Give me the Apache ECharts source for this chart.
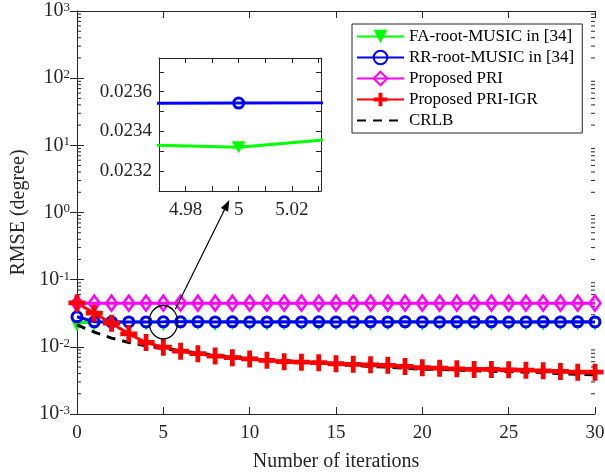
<!DOCTYPE html>
<html>
<head>
<meta charset="utf-8">
<script src="https://cdn.jsdelivr.net/npm/echarts@6/dist/echarts.min.js"></script>
<style>
  html, body { margin: 0; padding: 0; background: #fff; }
  #chart { width: 605px; height: 474px; }
</style>
</head>
<body>
<div id="chart"></div>
<script>
// 迭代次数
var iterations = [0, 1, 2, 3, 4, 5, 6, 7, 8, 9, 10, 11, 12, 13, 14, 15, 16, 17, 18, 19, 20, 21, 22, 23, 24, 25, 26, 27, 28, 29, 30];
// FA-root-MUSIC
var faRootMusic = [0.0228, 0.0233, 0.0236, 0.0234, 0.02365, 0.02332, 0.0245, 0.0238, 0.0235, 0.0240, 0.0236, 0.0234, 0.0237, 0.0239, 0.0235, 0.0236, 0.0238, 0.0234, 0.0236, 0.0240, 0.0235, 0.0237, 0.0236, 0.0238, 0.0234, 0.0236, 0.0237, 0.0235, 0.0236, 0.0238, 0.0237];
// RR-root-MUSIC
var rrRootMusic = [0.0280, 0.0236, 0.0235, 0.0235, 0.02350, 0.023543, 0.02360, 0.0236, 0.0235, 0.0236, 0.0235, 0.0235, 0.0236, 0.0235, 0.0236, 0.0235, 0.0235, 0.0236, 0.0235, 0.0236, 0.0235, 0.0235, 0.0236, 0.0235, 0.0236, 0.0235, 0.0235, 0.0236, 0.0235, 0.0236, 0.0235];
// Proposed PRI
var proposedPri = [0.0447, 0.0447, 0.0447, 0.0447, 0.0447, 0.0447, 0.0447, 0.0447, 0.0447, 0.0447, 0.0447, 0.0447, 0.0447, 0.0447, 0.0447, 0.0447, 0.0447, 0.0447, 0.0447, 0.0447, 0.0447, 0.0447, 0.0447, 0.0447, 0.0447, 0.0447, 0.0447, 0.0447, 0.0447, 0.0447, 0.0447];
// Proposed PRI-IGR
var proposedPriIgr = [0.0450, 0.0317, 0.0225, 0.0156, 0.0116, 0.0099, 0.0086, 0.0079, 0.0073, 0.0069, 0.0066, 0.0063, 0.0060, 0.0059, 0.0058, 0.0056, 0.0055, 0.0054, 0.0053, 0.0051, 0.0049, 0.0048, 0.0047, 0.0046, 0.0046, 0.00455, 0.0045, 0.0044, 0.0043, 0.0042, 0.0042];
// CRLB
var crlb = [0.0213, 0.0166, 0.0135, 0.0116, 0.0104, 0.0094, 0.0087, 0.0081, 0.0075, 0.0071, 0.0068, 0.0065, 0.0063, 0.0060, 0.0057, 0.0054, 0.0053, 0.0051, 0.0050, 0.0048, 0.00465, 0.0046, 0.0045, 0.0044, 0.0043, 0.00428, 0.0042, 0.0041, 0.0040, 0.0039, 0.00383];
// 图例名称
var legendNames = ['FA-root-MUSIC in [34]', 'RR-root-MUSIC in [34]', 'Proposed PRI', 'Proposed PRI-IGR', 'CRLB'];
// 局部放大区间
var zoomX = [4.97, 5.031];
var zoomY = [0.0231, 0.02377];

var FONT = 'Liberation Serif';
var AXC = '#262626';

function pairs(ys) {
  return iterations.map(function (x, i) { return [x, ys[i]]; });
}

// 对数轴次刻度 2..9
var minorVals = [];
for (var e = -3; e < 3; e++) {
  for (var m = 2; m <= 9; m++) minorVals.push([0, m * Math.pow(10, e)]);
}

var plusPath = 'path://M3.6,0H6.4V3.6H10V6.4H6.4V10H3.6V6.4H0V3.6H3.6Z';

function mainSeries(name, ys, xi, yi, extra) {
  var s = {
    name: name, type: 'line', data: pairs(ys),
    xAxisIndex: xi, yAxisIndex: yi,
    animation: false, clip: true
  };
  for (var k in extra) s[k] = extra[k];
  return s;
}

function styles(idx) {
  return [
    { symbol: 'triangle', symbolRotate: 180, symbolSize: [12, 12], symbolOffset: [0, 3], z: 2,
      lineStyle: { color: '#00ff00', width: 3 }, itemStyle: { color: '#00ff00' } },
    { symbol: 'circle', symbolSize: 10, z: 3,
      lineStyle: { color: '#0000ff', width: 3 }, itemStyle: { color: 'rgba(255,255,255,0)', borderColor: '#0000ff', borderWidth: 3 } },
    { symbol: 'diamond', symbolSize: [11, 15], z: 4,
      lineStyle: { color: '#ff00ff', width: 3 }, itemStyle: { color: 'rgba(255,255,255,0)', borderColor: '#ff00ff', borderWidth: 2.5 } },
    { symbol: plusPath, symbolSize: 17, z: 4,
      lineStyle: { color: '#ff0000', width: 3 }, itemStyle: { color: '#ff0000' } },
    { symbol: 'circle', showSymbol: false, z: 4,
      lineStyle: { color: '#000000', width: 3, type: [9, 7] },
      itemStyle: { color: 'rgba(0,0,0,0)', borderWidth: 0 } }
  ][idx];
}

var allData = [faRootMusic, rrRootMusic, proposedPri, proposedPriIgr, crlb];
var series = [];
for (var i = 0; i < allData.length; i++) {
  series.push(mainSeries(legendNames[i], allData[i], 0, 0, styles(i)));
  if (i === 0) {
    // 圆圈内部衬底
    series.push(mainSeries('rrFace', rrRootMusic, 0, 0, {
      symbol: 'circle', symbolSize: 7, z: 2, lineStyle: { width: 0, opacity: 0 },
      itemStyle: { color: '#fff' }, silent: true
    }));
  }
}
// 放大图中的两条线
series.push(mainSeries('zoomFA', faRootMusic, 2, 2, Object.assign({}, styles(0), { symbolSize: [14, 12], symbolOffset: [0, 0] })));
series.push(mainSeries('zoomRR', rrRootMusic, 2, 2, styles(1)));

// 次刻度
series.push({
  type: 'custom', xAxisIndex: 0, yAxisIndex: 0, data: minorVals, silent: true, animation: false,
  renderItem: function (params, api) {
    var y = api.coord([0, api.value(1)])[1];
    var cs = params.coordSys;
    return {
      type: 'group', children: [
        { type: 'line', shape: { x1: cs.x, y1: y, x2: cs.x + 4, y2: y }, style: { stroke: AXC, lineWidth: 1 } },
        { type: 'line', shape: { x1: cs.x + cs.width, y1: y, x2: cs.x + cs.width - 4, y2: y }, style: { stroke: AXC, lineWidth: 1 } }
      ]
    };
  }
});

var labelStyle = { fontFamily: FONT, fontSize: 19, color: AXC };

function logLabel(v) {
  var p = Math.round(Math.log(v) / Math.LN10);
  return '{b|10}{s|' + p + '}';
}

var option = {
  backgroundColor: '#fff',
  animation: false,
  grid: [
    { left: 77, right: 10, top: 11, bottom: 60, show: false, outerBoundsMode: 'none', containLabel: false },
    { left: 159, right: 284, top: 58, bottom: 283, show: true, backgroundColor: '#fff', borderWidth: 0, outerBoundsMode: 'none', containLabel: false }
  ],
  legend: {
    data: legendNames,
    orient: 'vertical',
    left: 352, top: 24,
    padding: [4, 8, 4, 4],
    itemGap: 4,
    itemWidth: 47, itemHeight: 17,
    backgroundColor: '#fff',
    borderColor: AXC, borderWidth: 1,
    textStyle: { fontFamily: FONT, fontSize: 17, color: '#000' },
    selectedMode: false,
    z: 10
  },
  xAxis: [
    { type: 'value', gridIndex: 0, min: 0, max: 30, interval: 5, position: 'bottom',
      name: 'Number of iterations', nameLocation: 'middle', nameGap: 38,
      nameTextStyle: { fontFamily: FONT, fontSize: 20, color: AXC },
      axisLine: { lineStyle: { color: AXC } },
      axisTick: { inside: true, length: 7, lineStyle: { color: AXC } },
      axisLabel: Object.assign({ margin: 10 }, labelStyle),
      splitLine: { show: false } },
    { type: 'value', gridIndex: 0, min: 0, max: 30, interval: 5, position: 'top',
      axisLine: { lineStyle: { color: AXC } },
      axisTick: { inside: true, length: 7, lineStyle: { color: AXC } },
      axisLabel: { show: false }, splitLine: { show: false } },
    { type: 'value', gridIndex: 1, min: zoomX[0], max: zoomX[1], interval: 0.01, position: 'bottom',
      axisLine: { lineStyle: { color: AXC } },
      axisTick: { inside: true, length: 5, lineStyle: { color: AXC } },
      axisLabel: Object.assign({ margin: 10, showMaxLabel: false,
        formatter: function (v) {
          var r = Math.round(v * 100) / 100;
          if (Math.abs(r - 4.98) < 1e-6 || Math.abs(r - 5.02) < 1e-6) return r.toFixed(2);
          if (Math.abs(r - 5) < 1e-6) return '5';
          return '';
        } }, labelStyle),
      splitLine: { show: false } },
    { type: 'value', gridIndex: 1, min: zoomX[0], max: zoomX[1], interval: 0.01, position: 'top',
      axisLine: { lineStyle: { color: AXC } },
      axisTick: { inside: true, length: 5, lineStyle: { color: AXC } },
      axisLabel: { show: false }, splitLine: { show: false } }
  ],
  yAxis: [
    { type: 'log', logBase: 10, gridIndex: 0, min: 0.001, max: 1000, position: 'left',
      name: 'RMSE (degree)', nameLocation: 'middle', nameGap: 47,
      nameTextStyle: { fontFamily: FONT, fontSize: 20, color: AXC },
      axisLine: { lineStyle: { color: AXC } },
      axisTick: { inside: true, length: 7, lineStyle: { color: AXC } },
      axisLabel: Object.assign({}, labelStyle, { fontSize: 20, margin: 7, formatter: logLabel,
        rich: {
          b: { fontFamily: FONT, fontSize: 20, color: AXC, lineHeight: 20, verticalAlign: 'middle', padding: [4, 0, 4, 0] },
          s: { fontFamily: FONT, fontSize: 13, color: AXC, lineHeight: 13, verticalAlign: 'top' }
        } }),
      splitLine: { show: false } },
    { type: 'log', logBase: 10, gridIndex: 0, min: 0.001, max: 1000, position: 'right',
      axisLine: { lineStyle: { color: AXC } },
      axisTick: { inside: true, length: 7, lineStyle: { color: AXC } },
      axisLabel: { show: false }, splitLine: { show: false } },
    { type: 'value', gridIndex: 1, min: zoomY[0], max: zoomY[1], interval: 0.0001, position: 'left',
      axisLine: { lineStyle: { color: AXC } },
      axisTick: { inside: true, length: 5, lineStyle: { color: AXC } },
      axisLabel: Object.assign({ margin: 7, showMaxLabel: false,
        formatter: function (v) {
          var n = Math.round(v * 10000);
          return n % 2 === 0 ? (n / 10000).toFixed(4) : '';
        } }, labelStyle),
      splitLine: { show: false } },
    { type: 'value', gridIndex: 1, min: zoomY[0], max: zoomY[1], interval: 0.0001, position: 'right',
      axisLine: { lineStyle: { color: AXC } },
      axisTick: { inside: true, length: 5, lineStyle: { color: AXC } },
      axisLabel: { show: false }, splitLine: { show: false } }
  ],
  series: series
};

var chart = echarts.init(document.getElementById('chart'), null, { renderer: 'canvas' });
chart.setOption(option);

// 圈和箭头
var c = chart.convertToPixel({ xAxisIndex: 0, yAxisIndex: 0 }, [5, 0.0233]);
var tipBase = chart.convertToPixel({ xAxisIndex: 2, yAxisIndex: 2 }, [4.9965, zoomY[0]]);
var tip = [tipBase[0], tipBase[1] + 9];
var start = [c[0] + 12, c[1] - 13];
var dx = tip[0] - start[0], dy = tip[1] - start[1];
var len = Math.sqrt(dx * dx + dy * dy);
var ux = dx / len, uy = dy / len;
var hl = 11, hw = 4;
var bx = tip[0] - ux * hl, by = tip[1] - uy * hl;
chart.setOption({
  graphic: [
    { type: 'circle', x: c[0], y: c[1], scaleY: 1.17, shape: { cx: 0, cy: 0, r: 14.3 },
      style: { fill: 'none', stroke: '#000', lineWidth: 1.2 }, z: 20 },
    { type: 'line', shape: { x1: start[0], y1: start[1], x2: bx, y2: by },
      style: { stroke: '#000', lineWidth: 1.2 }, z: 20 },
    { type: 'polygon', shape: { points: [tip, [bx - uy * hw, by + ux * hw], [bx + uy * hw, by - ux * hw]] },
      style: { fill: '#000' }, z: 20 }
  ]
});
</script>
</body>
</html>
